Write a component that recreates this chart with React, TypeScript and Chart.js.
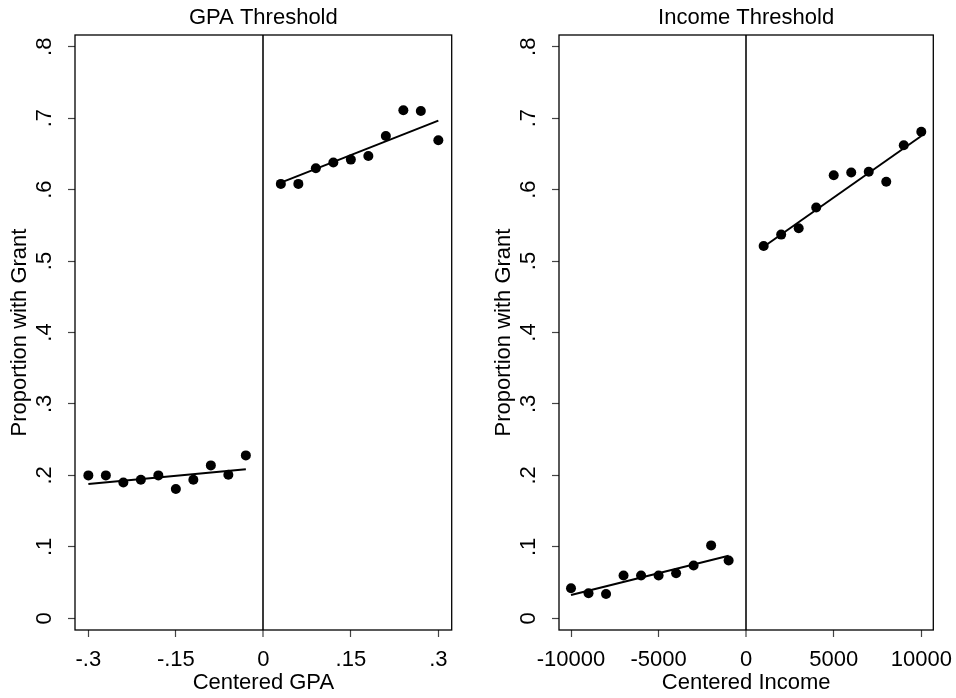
import React, { useEffect, useRef } from "react";
import { Chart, registerables } from "chart.js";

Chart.register(...registerables);

// ---------- data ----------
const Y_TICKS = [0, 0.1, 0.2, 0.3, 0.4, 0.5, 0.6, 0.7, 0.8];
const Y_TICK_LABELS = ["0", ".1", ".2", ".3", ".4", ".5", ".6", ".7", ".8"];
const Y_MIN = -0.0164;
const Y_MAX = 0.8164;
const Y_TITLE = "Proportion with Grant";

const GPA_TICKS = [-0.3, -0.15, 0, 0.15, 0.3];
const GPA_TICK_LABELS = ["-.3", "-.15", "0", ".15", ".3"];
const GPA_MIN = -0.3229;
const GPA_MAX = 0.3229;
const GPA_CUTOFF = 0;
const GPA_LEFT_X = [-0.3, -0.27, -0.24, -0.21, -0.18, -0.15, -0.12, -0.09, -0.06, -0.03];
const GPA_LEFT_Y = [0.2, 0.2, 0.19, 0.194, 0.2, 0.181, 0.194, 0.214, 0.201, 0.228];
const GPA_RIGHT_X = [0.03, 0.06, 0.09, 0.12, 0.15, 0.18, 0.21, 0.24, 0.27, 0.3];
const GPA_RIGHT_Y = [0.608, 0.608, 0.63, 0.638, 0.642, 0.647, 0.675, 0.711, 0.71, 0.669];
const GPA_FIT_LEFT_X = [-0.3, -0.03];
const GPA_FIT_LEFT_Y = [0.188, 0.2085];
const GPA_FIT_RIGHT_X = [0.03, 0.3];
const GPA_FIT_RIGHT_Y = [0.6097, 0.6965];

const INC_TICKS = [-10000, -5000, 0, 5000, 10000];
const INC_TICK_LABELS = ["-10000", "-5000", "0", "5000", "10000"];
const INC_MIN = -10686;
const INC_MAX = 10686;
const INC_CUTOFF = 0;
const INC_LEFT_X = [-10000, -9000, -8000, -7000, -6000, -5000, -4000, -3000, -2000, -1000];
const INC_LEFT_Y = [0.042, 0.035, 0.034, 0.06, 0.06, 0.06, 0.063, 0.074, 0.102, 0.081];
const INC_RIGHT_X = [1000, 2000, 3000, 4000, 5000, 6000, 7000, 8000, 9000, 10000];
const INC_RIGHT_Y = [0.521, 0.537, 0.546, 0.575, 0.62, 0.624, 0.625, 0.611, 0.662, 0.681];
const INC_FIT_LEFT_X = [-10000, -1000];
const INC_FIT_LEFT_Y = [0.0326, 0.0876];
const INC_FIT_RIGHT_X = [1000, 10000];
const INC_FIT_RIGHT_Y = [0.52, 0.675];

// ---------- helpers ----------
const FONT = "'Liberation Sans', Arial, sans-serif";
const FS = 22;
const zip = (xs: number[], ys: number[]) => xs.map((x, i) => ({ x, y: ys[i] }));

const boxPlugin = {
  id: "plotBox",
  afterDraw(chart: any) {
    const { ctx, chartArea: a } = chart;
    ctx.save();
    ctx.strokeStyle = "#000";
    ctx.lineWidth = 1.3;
    ctx.strokeRect(a.left, a.top, a.right - a.left, a.bottom - a.top);
    ctx.restore();
  },
};

type PanelProps = {
  title: string;
  xTitle: string;
  xTicks: number[];
  xTickLabels: string[];
  xMin: number;
  xMax: number;
  cutoff: number;
  leftX: number[];
  leftY: number[];
  rightX: number[];
  rightY: number[];
  fitLX: number[];
  fitLY: number[];
  fitRX: number[];
  fitRY: number[];
  rightPad: number;
  width: number;
};

function Panel(p: PanelProps) {
  const ref = useRef<HTMLCanvasElement | null>(null);
  useEffect(() => {
    if (!ref.current) return;
    const pointDs = (xs: number[], ys: number[]) => ({
      type: "scatter" as const,
      data: zip(xs, ys),
      pointRadius: 5,
      pointBackgroundColor: "#000",
      pointBorderColor: "#000",
      pointBorderWidth: 0,
      showLine: false,
    });
    const lineDs = (xs: number[], ys: number[]) => ({
      type: "line" as const,
      data: zip(xs, ys),
      borderColor: "#000",
      borderWidth: 2,
      pointRadius: 0,
      fill: false,
    });
    const chart = new Chart(ref.current, {
      type: "scatter",
      data: {
        datasets: [
          lineDs(p.fitLX, p.fitLY),
          lineDs(p.fitRX, p.fitRY),
          pointDs(p.leftX, p.leftY),
          pointDs(p.rightX, p.rightY),
        ] as any,
      },
      plugins: [boxPlugin],
      options: {
        animation: false,
        responsive: false,
        events: [],
        layout: { padding: { left: 0, right: p.rightPad, top: 0, bottom: 0 } },
        plugins: {
          legend: { display: false },
          tooltip: { enabled: false },
          title: {
            display: true,
            text: p.title,
            fullSize: false,
            color: "#000",
            font: { family: FONT, size: FS, weight: "normal" as any, lineHeight: 1.2 },
            padding: { top: 4.3, bottom: 4.3 },
          },
        },
        scales: {
          x: {
            type: "linear",
            min: p.xMin,
            max: p.xMax,
            afterBuildTicks: (s: any) => {
              s.ticks = p.xTicks.map((v) => ({ value: v }));
            },
            afterFit: (s: any) => {
              s.height = 68;
              s.paddingLeft = 0;
              s.paddingRight = 0;
            },
            ticks: {
              autoSkip: false,
              maxRotation: 0,
              minRotation: 0,
              padding: 9.5,
              color: "#000",
              font: { family: FONT, size: FS },
              callback: (v: any) => {
                const i = p.xTicks.indexOf(Number(v));
                return i >= 0 ? p.xTickLabels[i] : "";
              },
            },
            grid: {
              drawOnChartArea: true,
              drawTicks: true,
              tickLength: 7,
              color: (ctx: any) =>
                ctx.tick && ctx.tick.value === p.cutoff ? "#3a3a3a" : "rgba(0,0,0,0)",
              lineWidth: (ctx: any) => (ctx.tick && ctx.tick.value === p.cutoff ? 2 : 1),
              tickColor: "#444",
              tickWidth: 1.2,
            },
            border: { display: false },
            title: {
              display: true,
              text: p.xTitle,
              color: "#000",
              font: { family: FONT, size: FS, lineHeight: 1.2 },
              padding: { top: 0, bottom: 1.8 },
            },
          },
          y: {
            type: "linear",
            min: Y_MIN,
            max: Y_MAX,
            afterBuildTicks: (s: any) => {
              s.ticks = Y_TICKS.map((v) => ({ value: v }));
            },
            afterFit: (s: any) => {
              s.width = 75;
              s.paddingTop = 0;
              s.paddingBottom = 0;
            },
            ticks: {
              autoSkip: false,
              minRotation: 90,
              maxRotation: 90,
              crossAlign: "center",
              padding: 14,
              color: "#000",
              font: { family: FONT, size: FS },
              callback: (v: any) => {
                const i = Y_TICKS.findIndex((t) => Math.abs(t - Number(v)) < 1e-9);
                return i >= 0 ? Y_TICK_LABELS[i] : "";
              },
            },
            grid: {
              drawOnChartArea: false,
              drawTicks: true,
              tickLength: 7,
              tickColor: "#444",
              tickWidth: 1.2,
            },
            border: { display: false },
            title: {
              display: true,
              text: Y_TITLE,
              color: "#000",
              font: { family: FONT, size: FS, lineHeight: 1.2 },
              padding: { top: 6.3, bottom: 0 },
            },
          },
        },
      } as any,
    });
    return () => chart.destroy();
  }, []);
  return <canvas ref={ref} width={p.width} height={698} style={{ display: "block", width: p.width, height: 698 }} />;
}

export default function App() {
  return (
    <div style={{ position: "fixed", left: 0, top: 0, width: 956, height: 698, background: "#fff" }}>
      <div style={{ position: "absolute", left: 0, top: 0 }}>
        <Panel
          title="GPA Threshold"
          xTitle="Centered GPA"
          xTicks={GPA_TICKS}
          xTickLabels={GPA_TICK_LABELS}
          xMin={GPA_MIN}
          xMax={GPA_MAX}
          cutoff={GPA_CUTOFF}
          leftX={GPA_LEFT_X}
          leftY={GPA_LEFT_Y}
          rightX={GPA_RIGHT_X}
          rightY={GPA_RIGHT_Y}
          fitLX={GPA_FIT_LEFT_X}
          fitLY={GPA_FIT_LEFT_Y}
          fitRX={GPA_FIT_RIGHT_X}
          fitRY={GPA_FIT_RIGHT_Y}
          rightPad={26.3}
          width={478}
        />
      </div>
      <div style={{ position: "absolute", left: 484, top: 0 }}>
        <Panel
          title="Income Threshold"
          xTitle="Centered Income"
          xTicks={INC_TICKS}
          xTickLabels={INC_TICK_LABELS}
          xMin={INC_MIN}
          xMax={INC_MAX}
          cutoff={INC_CUTOFF}
          leftX={INC_LEFT_X}
          leftY={INC_LEFT_Y}
          rightX={INC_RIGHT_X}
          rightY={INC_RIGHT_Y}
          fitLX={INC_FIT_LEFT_X}
          fitLY={INC_FIT_LEFT_Y}
          fitRX={INC_FIT_RIGHT_X}
          fitRY={INC_FIT_RIGHT_Y}
          rightPad={22.7}
          width={472}
        />
      </div>
    </div>
  );
}
